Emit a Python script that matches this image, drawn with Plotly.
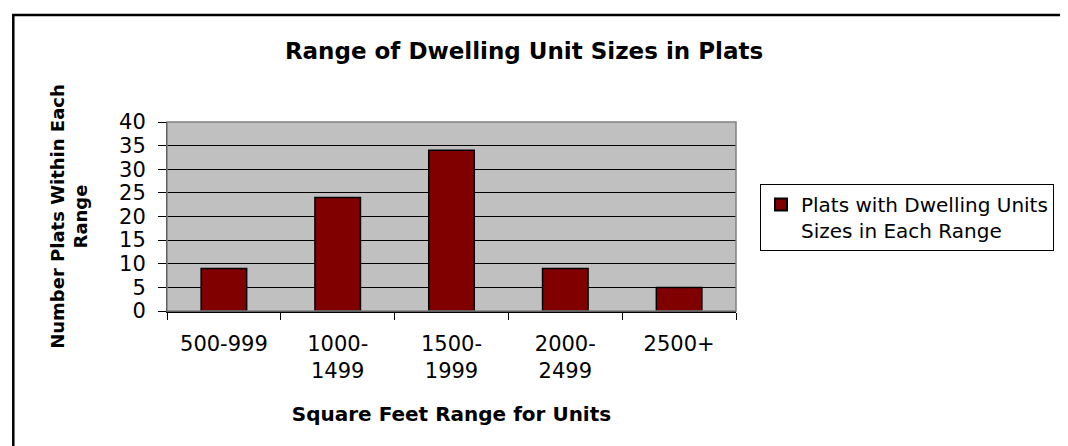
import plotly.graph_objects as go

categories = ["500-999", "1000-1499", "1500-1999", "2000-2499", "2500+"]
tick_labels = ["500-999", "1000-<br>1499", "1500-<br>1999", "2000-<br>2499", "2500+"]
values = [9, 24, 34, 9, 5]
y_ticks = [0, 5, 10, 15, 20, 25, 30, 35, 40]
series_name = "Plats with Dwelling Units<br>Sizes in Each Range"
title_text = "Range of Dwelling Unit Sizes in Plats"
x_title = "Square Feet Range for Units"
y_title = "Number Plats Within Each<br>Range"

FONT = "DejaVu Sans, Liberation Sans, Arial, sans-serif"
W, H = 1068, 446
L, R, T, B = 159, 340, 114, 143
pw = W - L - R
ph = H - T - B

fig = go.Figure()
fig.add_trace(go.Bar(
    x=categories, y=values, name=series_name,
    marker=dict(color="#800000", line=dict(color="#000000", width=1.5)),
    showlegend=True,
))

fig.update_layout(
    width=W, height=H,
    margin=dict(l=L, r=R, t=T, b=B, autoexpand=False),
    paper_bgcolor="white",
    plot_bgcolor="#C0C0C0",
    bargap=0.6,
    font=dict(family=FONT, color="black", size=20),
    title=dict(text=title_text, x=516 / W, xanchor="center", y=1 - 43 / H, yanchor="middle",
               xref="container", yref="container",
               font=dict(family=FONT, size=23, weight="bold", color="black")),
    showlegend=True,
    legend=dict(x=(752 - L) / pw, xanchor="left", y=(H - B - 176) / ph, yanchor="top",
                bordercolor="black", borderwidth=1, bgcolor="white",
                font=dict(family=FONT, size=20, color="black"),
                valign="top", tracegroupgap=0, itemsizing="constant"),
)

fig.update_xaxes(
    type="category", categoryorder="array", categoryarray=categories,
    tickmode="array", tickvals=categories, ticktext=tick_labels,
    tickson="boundaries", ticks="outside", ticklen=7, tickcolor="black", tickwidth=1,
    ticklabelstandoff=13,
    showline=True, linecolor="black", linewidth=1.5,
    showgrid=False, zeroline=False,
    tickfont=dict(family=FONT, size=21, color="black"),
    title=dict(text=x_title, font=dict(family=FONT, size=20, weight="bold", color="black"), standoff=25),
)
fig.update_yaxes(
    range=[0, 40], tickmode="array", tickvals=y_ticks,
    ticks="outside", ticklen=8, tickcolor="black", tickwidth=1,
    ticklabelstandoff=8,
    showline=True, linecolor="black", linewidth=1,
    showgrid=True, gridcolor="black", gridwidth=1, zeroline=False,
    tickfont=dict(family=FONT, size=21, color="black"),
    title=dict(text=y_title, font=dict(family=FONT, size=18, weight="bold", color="black"), standoff=26),
)

# plot area border (gray) and outer chart frame
fig.add_shape(type="rect", xref="paper", yref="paper", x0=0, x1=1, y0=0, y1=1,
              line=dict(color="#808080", width=1.5), fillcolor="rgba(0,0,0,0)", layer="above")
fig.add_shape(type="rect", xref="paper", yref="paper",
              x0=(5.3 - L) / pw, x1=(W + 10 - L) / pw,
              y0=(H - B - (H + 10)) / ph, y1=(H - B - 7) / ph,
              line=dict(color="black", width=2.5), fillcolor="rgba(0,0,0,0)")

fig.write_html("out.html")
